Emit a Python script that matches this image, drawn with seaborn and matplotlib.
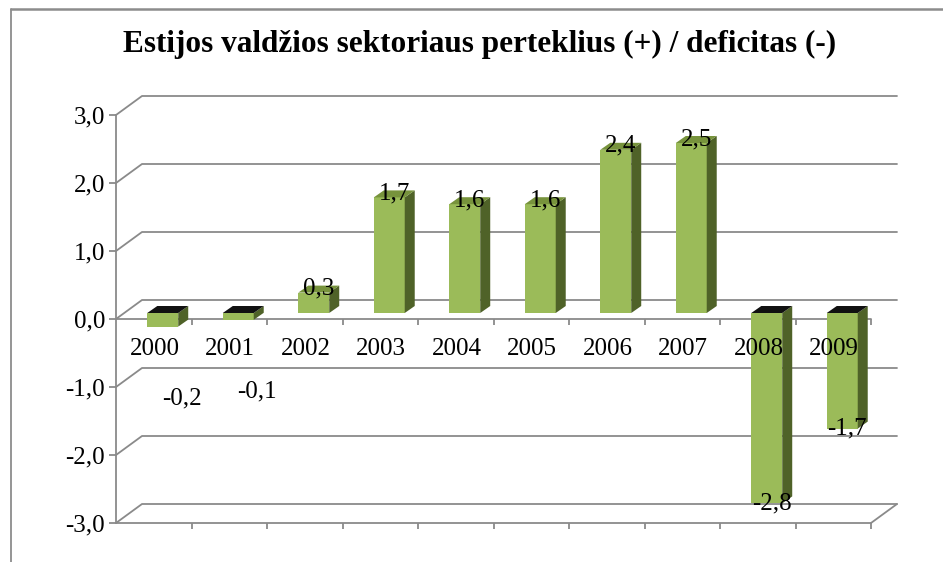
import matplotlib
matplotlib.use("Agg")
import matplotlib.pyplot as plt
import matplotlib.transforms as mtransforms
from matplotlib.lines import Line2D
from matplotlib.patches import Polygon
import pandas as pd
import seaborn as sns

years = ["2000", "2001", "2002", "2003", "2004", "2005", "2006", "2007", "2008", "2009"]
balance = [-0.2, -0.1, 0.3, 1.7, 1.6, 1.6, 2.4, 2.5, -2.8, -1.7]
y_ticks = [-3, -2, -1, 0, 1, 2, 3]
title = "Estijos valdžios sektoriaus perteklius (+) / deficitas (-)"

front_col = "#9bbb59"
side_col = "#4f6228"
top_col = "#77933c"
grid_col = "#8a8a8a"

sns.set_theme(style="white")
plt.rcParams['font.family'] = ['Liberation Serif', 'DejaVu Serif']

W, H = 943, 562
fig = plt.figure(figsize=(W / 100, H / 100), dpi=100)
# plot area in pixels: x 116..871, y 115..523
ax = fig.add_axes([116 / W, 1 - 523 / H, (871 - 116) / W, (523 - 115) / H])
ax.set_facecolor("none")

df = pd.DataFrame({"year": years, "balance": balance})
sns.barplot(data=df, x="year", y="balance", color=front_col, saturation=1,
            width=0.41, linewidth=0, ax=ax, zorder=3)

ax.set_xlim(-0.5, 9.5)
ax.set_ylim(-3, 3)

# pixel -> data helpers
sx = 10 / (871 - 116)
sy = 6 / (523 - 115)
bar_dx, bar_dy = 9 * sx, 6 * sy      # bars sit in the middle of the depth
dep_dx, dep_dy = 10 * sx, 7 * sy     # bar depth
wall_dx, wall_dy = 26 * sx, 19 * sy  # back wall offset

# back wall gridlines
for t in y_ticks:
    ax.plot([-0.5, -0.5 + wall_dx, 9.5 + wall_dx], [t, t + wall_dy, t + wall_dy],
            color=grid_col, lw=1.3, clip_on=False, zorder=1)
ax.plot([9.5, 9.5 + wall_dx], [-3, -3 + wall_dy], color=grid_col, lw=1.3, clip_on=False, zorder=1)

# front category axis at zero and floor line
bounds = [k - 0.5 for k in range(1, 11)]
for lvl in [0, -3]:
    ax.plot([-0.5, 9.5], [lvl, lvl], color=grid_col, lw=1.3, clip_on=False, zorder=2)
    ax.plot(bounds, [lvl] * len(bounds), ls="", marker=3, markersize=4.5,
            markeredgewidth=1.3, color=grid_col, clip_on=False, zorder=2)

# 3d faces for each bar
for p, v in zip(ax.patches, balance):
    x0 = p.get_x() + bar_dx
    x1 = x0 + p.get_width()
    base = bar_dy
    end = v + bar_dy
    p.set_x(x0)
    p.set_y(base)
    p.set_height(v)
    side = Polygon([(x1, base), (x1, end), (x1 + dep_dx, end + dep_dy), (x1 + dep_dx, base + dep_dy)],
                   closed=True, facecolor=side_col, edgecolor="none", zorder=3, clip_on=False)
    ax.add_patch(side)
    top_y = max(base, end)
    tcol = top_col if v > 0 else "#111111"
    top = Polygon([(x0, top_y), (x1, top_y), (x1 + dep_dx, top_y + dep_dy), (x0 + dep_dx, top_y + dep_dy)],
                  closed=True, facecolor=tcol, edgecolor="none", zorder=3, clip_on=False)
    ax.add_patch(top)

    lbl = f"{v:.1f}".replace(".", ",")
    xc = (x0 + x1) / 2
    if v > 0:
        ax.annotate(lbl, (xc, end), xytext=(5 * 0.72, -2 * 0.72), textcoords="offset points",
                    ha="center", va="baseline", fontsize=18, color="black", zorder=6)
    elif v > -0.5:
        ax.annotate(lbl, (xc, end), xytext=(19 * 0.72, -72 * 0.72), textcoords="offset points",
                    ha="center", va="center", fontsize=18, color="black", zorder=6)
    else:
        ax.annotate(lbl, (xc, end), xytext=(5 * 0.72, 0), textcoords="offset points",
                    ha="center", va="center", fontsize=18, color="black", zorder=6)

# year labels just below the zero line
for i, yr in enumerate(years):
    ax.annotate(yr, (i, 0), xytext=(1 * 0.72, -30 * 0.72), textcoords="offset points",
                ha="center", va="center", fontsize=18, color="black", zorder=6)

# axes styling
for s in ["top", "right", "bottom"]:
    ax.spines[s].set_visible(False)
ax.spines["left"].set_color(grid_col)
ax.spines["left"].set_linewidth(1.3)
ax.spines["left"].set_zorder(2)
ax.set_xticks([])
ax.set_yticks(y_ticks)
ax.set_yticklabels([f"{t:.1f}".replace(".", ",") for t in y_ticks])
ax.tick_params(axis="y", left=True, length=5, width=1.3, color=grid_col, pad=3,
               labelsize=18, labelcolor="black")
ax.set_xlabel("")
ax.set_ylabel("")

fig.text(480 / W, 1 - 44 / H, title, ha="center", va="center",
         fontsize=22.5, fontweight="bold", color="black")

# chart frame (top and left edges visible)
fig.add_artist(Line2D([11 / W, 1], [1 - 9 / H, 1 - 9 / H], transform=fig.transFigure,
                      color="#8c8c8c", lw=1.8))
fig.add_artist(Line2D([11 / W, 11 / W], [1 - 9 / H, 0], transform=fig.transFigure,
                      color="#8c8c8c", lw=1.3))

fig.savefig("out.png", dpi=100)
